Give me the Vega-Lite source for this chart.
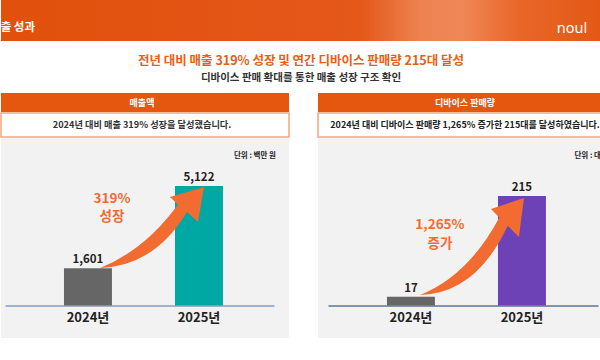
{
  "$schema": "https://vega.github.io/schema/vega-lite/v6.json",
  "padding": 0,
  "background": "white",
  "spacing": 0,
  "config": {
    "view": {"stroke": null},
    "font": "Noto Sans CJK KR",
    "concat": {"spacing": 0}
  },
  "datasets": {
    "sales": [{"year": "2024년", "value": 1601}, {"year": "2025년", "value": 5122}],
    "devices": [{"year": "2024년", "value": 17}, {"year": "2025년", "value": 215}]
  },
  "vconcat": [
    {
      "width": 600,
      "height": 41,
      "view": {"fill": "#e2530e", "stroke": null},
      "data": {"values": [{"section": "매출 성과", "brand": "noul"}]},
      "layer": [
        {
          "mark": {"type": "rect", "color": {"gradient": "linear", "x1": 0, "y1": 0, "x2": 1, "y2": 0, "stops": [
            {"offset": 0, "color": "#e1500c"},
            {"offset": 0.6, "color": "#e4581a"},
            {"offset": 0.7, "color": "#ee8351"},
            {"offset": 0.77, "color": "#ef8757"},
            {"offset": 0.86, "color": "#e9672a"},
            {"offset": 1, "color": "#e35814"}
          ]}},
          "encoding": {}
        },
        {
          "mark": {"type": "text", "align": "right", "dx": -266, "dy": 7.5, "fontSize": 11.5, "fontWeight": "bold", "color": "white", "clip": true},
          "encoding": {"text": {"field": "section"}}
        },
        {
          "mark": {"type": "text", "dx": 271, "dy": 8, "fontSize": 14.5, "font": "Noto Sans", "letterSpacing": 0.8, "color": "white", "clip": true},
          "encoding": {"text": {"field": "brand"}}
        }
      ]
    },
    {
      "width": 600,
      "height": 52,
      "data": {"values": [{"title": "전년 대비 매출 319% 성장 및 연간 디바이스 판매량 215대 달성", "subtitle": "디바이스 판매 확대를 통한 매출 성장 구조 확인"}]},
      "layer": [
        {
          "mark": {"type": "text", "dy": -6, "fontSize": 12.5, "fontWeight": "bold", "color": "#e85e17"},
          "encoding": {"text": {"field": "title"}}
        },
        {
          "mark": {"type": "text", "dy": 11, "fontSize": 10.5, "fontWeight": "bold", "color": "#333333"},
          "encoding": {"text": {"field": "subtitle"}}
        }
      ]
    },
    {
      "spacing": 27,
      "hconcat": [
        {
          "spacing": 0,
          "vconcat": [
            {
              "width": 288,
              "height": 19,
              "view": {"fill": "#e5560f", "stroke": null},
              "data": {"values": [{"label": "매출액"}]},
              "mark": {"type": "text", "dx": -3, "fontSize": 9, "fontWeight": "bold", "color": "white"},
              "encoding": {"text": {"field": "label"}}
            },
            {
              "width": 288,
              "height": 24,
              "view": {"fill": "white", "stroke": "#f5a67f", "strokeWidth": 1.5},
              "data": {"values": [{"label": "2024년 대비 매출 319% 성장을 달성했습니다."}]},
              "mark": {"type": "text", "dx": -3, "fontSize": 9.2, "fontWeight": "bold", "color": "#333333"},
              "encoding": {"text": {"field": "label"}}
            },
            {
              "width": 288,
              "height": 200,
              "view": {"fill": "#f2f2f2", "stroke": null},
              "title": {"text": "단위 : 백만 원", "anchor": "end", "offset": -21, "dx": -13, "fontSize": 7.5, "fontWeight": "bold", "color": "#222222"},
              "data": {"name": "sales"},
              "encoding": {
                "x": {
                  "field": "year", "type": "nominal",
                  "scale": {"range": [4, 273], "paddingInner": 0.568, "paddingOuter": 0.4955, "align": 0.536},
                  "axis": {"title": null, "orient": "bottom", "offset": -32.5, "ticks": false, "grid": false, "domainColor": "#8a9cbe", "domainWidth": 1.5, "labelFontSize": 13, "labelFontWeight": "bold", "labelColor": "#222222", "labelPadding": 6, "labelAngle": 0}
                },
                "y": {"field": "value", "type": "quantitative", "scale": {"domain": [-1393, 7179], "nice": false, "zero": false}, "axis": null}
              },
              "layer": [
                {
                  "mark": {"type": "bar"},
                  "encoding": {
                    "y2": {"datum": 0},
                    "color": {"condition": {"test": "datum.year == '2024년'", "value": "#666666"}, "value": "#00a8a4"}
                  }
                },
                {
                  "mark": {"type": "text", "baseline": "bottom", "dy": -3, "fontSize": 11.5, "fontWeight": "bold", "color": "#222222"},
                  "encoding": {"text": {"field": "value", "type": "quantitative", "format": ","}}
                },
                {
                  "transform": [{"filter": "datum.year == '2025년'"}],
                  "mark": {"type": "point", "shape": "M-0.99,0.82 Q-0.54,0.64 -0.21,0.185 L-0.29,0.11 L0.05,0.01 L-0.01,0.36 L-0.12,0.26 Q-0.445,0.80 -0.99,0.82 Z", "size": 40000, "filled": true, "opacity": 1, "color": "#f26b30", "strokeWidth": 0}
                },
                {
                  "transform": [{"filter": "datum.year == '2025년'"}],
                  "mark": {"type": "text", "text": "319%\n성장", "lineBreak": "\n", "lineHeight": 18, "dx": -87, "dy": 13, "fontSize": 13.5, "fontWeight": "bold", "color": "#f26b30"}
                }
              ]
            }
          ]
        },
        {
          "spacing": 0,
          "vconcat": [
            {
              "width": 285,
              "height": 19,
              "view": {"fill": "#e5560f", "stroke": null},
              "data": {"values": [{"label": "디바이스 판매량"}]},
              "mark": {"type": "text", "dx": 4.5, "fontSize": 9, "fontWeight": "bold", "color": "white"},
              "encoding": {"text": {"field": "label"}}
            },
            {
              "width": 285,
              "height": 24,
              "view": {"fill": "white", "stroke": "#f5a67f", "strokeWidth": 1.5},
              "data": {"values": [{"label": "2024년 대비 디바이스 판매량 1,265% 증가한 215대를 달성하였습니다."}]},
              "mark": {"type": "text", "dx": 4.5, "fontSize": 9, "fontWeight": "bold", "color": "#222222"},
              "encoding": {"text": {"field": "label"}}
            },
            {
              "width": 285,
              "height": 200,
              "view": {"fill": "#f2f2f2", "stroke": null},
              "title": {"text": "단위 : 대", "anchor": "end", "offset": -21, "dx": -2, "fontSize": 7.5, "fontWeight": "bold", "color": "#222222"},
              "data": {"name": "devices"},
              "encoding": {
                "x": {
                  "field": "year", "type": "nominal",
                  "scale": {"range": [10, 280], "paddingInner": 0.568, "paddingOuter": 0.5, "align": 0.531},
                  "axis": {"title": null, "orient": "bottom", "offset": -32.5, "ticks": false, "grid": false, "domainColor": "#5f7599", "domainWidth": 1.5, "labelFontSize": 13, "labelFontWeight": "bold", "labelColor": "#222222", "labelPadding": 6, "labelAngle": 0}
                },
                "y": {"field": "value", "type": "quantitative", "scale": {"domain": [-63.81, 328.9], "nice": false, "zero": false}, "axis": null}
              },
              "layer": [
                {
                  "mark": {"type": "bar"},
                  "encoding": {
                    "y2": {"datum": 0},
                    "color": {"condition": {"test": "datum.year == '2024년'", "value": "#666666"}, "value": "#6d42b6"}
                  }
                },
                {
                  "mark": {"type": "text", "baseline": "bottom", "dy": -3, "fontSize": 11.5, "fontWeight": "bold", "color": "#222222"},
                  "encoding": {"text": {"field": "value", "type": "quantitative", "format": ","}}
                },
                {
                  "transform": [{"filter": "datum.year == '2025년'"}],
                  "mark": {"type": "point", "shape": "M-1.02,0.99 Q-0.537,0.798 -0.226,0.214 L-0.31,0.13 L0.02,0.02 L-0.03,0.41 L-0.142,0.298 Q-0.459,0.976 -1.02,0.99 Z", "size": 40000, "filled": true, "opacity": 1, "color": "#f26b30", "strokeWidth": 0}
                },
                {
                  "transform": [{"filter": "datum.year == '2025년'"}],
                  "mark": {"type": "text", "text": "1,265%\n증가", "lineBreak": "\n", "lineHeight": 19, "dx": -82, "dy": 29, "fontSize": 13.5, "fontWeight": "bold", "color": "#f26b30"}
                }
              ]
            }
          ]
        }
      ]
    }
  ]
}
